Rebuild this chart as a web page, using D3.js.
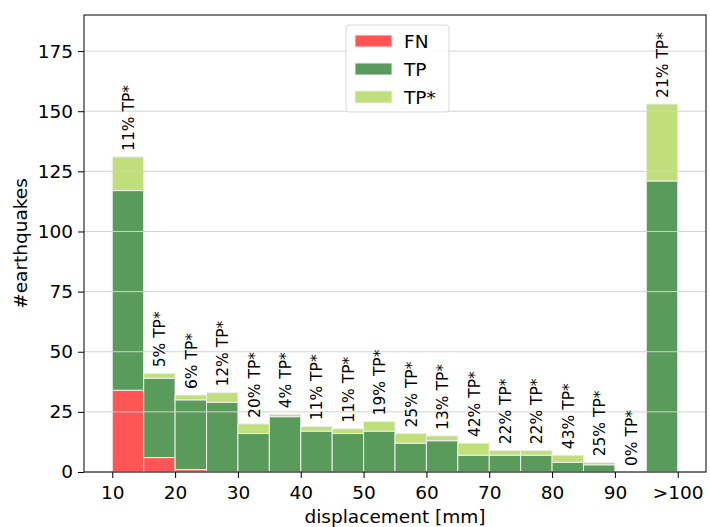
<!DOCTYPE html>
<html>
<head>
<meta charset="utf-8">
<script src="https://cdn.jsdelivr.net/npm/d3@7"></script>
<style>
  body { margin: 0; background: #fff; }
  text { font-family: "DejaVu Sans", sans-serif; fill: #000; }
</style>
</head>
<body>
<div id="chart"></div>
<script>
// bin start (mm), last bin is drawn as ">100"
const binStarts = [10, 15, 20, 25, 30, 35, 40, 45, 50, 55, 60, 65, 70, 75, 80, 85, 90, 95];
const fnCounts  = [34, 6, 1, 0, 0, 0, 0, 0, 0, 0, 0, 0, 0, 0, 0, 0, 0, 0];
const tpCounts  = [83, 33, 29, 29, 16, 23, 17, 16, 17, 12, 13, 7, 7, 7, 4, 3, 0, 121];
const tpStarCounts = [14, 2, 2, 4, 4, 1, 2, 2, 4, 4, 2, 5, 2, 2, 3, 1, 0, 32];
const xTicks = [10, 20, 30, 40, 50, 60, 70, 80, 90, 100];
const xTickLabels = ["10", "20", "30", "40", "50", "60", "70", "80", "90", ">100"];
const yTicks = [0, 25, 50, 75, 100, 125, 150, 175];
const seriesNames = ["FN", "TP", "TP*"];
const colors = ["#ff5555", "#5a9a5a", "#c0df7a"];

const width = 710, height = 527;
const margin = {top: 15, right: 4, bottom: 55, left: 84};
const fontSize = "18.5px";

const svg = d3.select("#chart").append("svg")
	.attr("width", width)
	.attr("height", height);

const x = d3.scaleLinear().domain([5.5, 104.5]).range([margin.left, width - margin.right]);
const y = d3.scaleLinear().domain([0, 190]).range([height - margin.bottom, margin.top]);

// build stacked rows
const rows = binStarts.map((b, i) => ({
	start: b, FN: fnCounts[i], TP: tpCounts[i], "TP*": tpStarCounts[i]
}));
const stacked = d3.stack().keys(seriesNames)(rows);

const g = svg.append("g");

stacked.forEach((layer, k) => {
	g.selectAll(null).data(layer).enter().append("rect")
		.attr("x", d => x(d.data.start))
		.attr("width", d => x(d.data.start + 5) - x(d.data.start))
		.attr("y", d => y(d[1]))
		.attr("height", d => y(d[0]) - y(d[1]))
		.attr("fill", colors[k])
		.attr("stroke", "#eeeeee")
		.attr("stroke-width", 1);
});

// grid lines drawn above bars
svg.append("g").selectAll("line").data(yTicks).enter().append("line")
	.attr("x1", margin.left).attr("x2", width - margin.right)
	.attr("y1", d => y(d)).attr("y2", d => y(d))
	.attr("stroke", "#d3d3d3").attr("stroke-width", 1);

// percent labels
rows.forEach(r => {
	const total = r.FN + r.TP + r["TP*"];
	const pct = total > 0 ? Math.round(100 * r["TP*"] / total) : 0;
	const cx = x(r.start + 2.5);
	const ty = y(total + 2.5);
	svg.append("text")
		.attr("transform", "translate(" + (cx + 6) + "," + ty + ") rotate(-90)")
		.attr("font-size", "15.5px")
		.text(pct + "% TP*");
});

// frame
svg.append("rect")
	.attr("x", margin.left).attr("y", margin.top)
	.attr("width", width - margin.right - margin.left)
	.attr("height", height - margin.bottom - margin.top)
	.attr("fill", "none").attr("stroke", "#000").attr("stroke-width", 1);

// axes
const xAxis = svg.append("g")
	.attr("transform", "translate(0," + (height - margin.bottom) + ")")
	.call(d3.axisBottom(x).tickValues(xTicks).tickFormat((d, i) => xTickLabels[i]).tickSize(6).tickPadding(8));
const yAxis = svg.append("g")
	.attr("transform", "translate(" + margin.left + ",0)")
	.call(d3.axisLeft(y).tickValues(yTicks).tickSize(6).tickPadding(5));
[xAxis, yAxis].forEach(a => {
	a.select(".domain").remove();
	a.selectAll("text").attr("font-size", fontSize).attr("font-family", "DejaVu Sans, sans-serif");
	a.selectAll("line").attr("stroke", "#000");
});

// axis titles
svg.append("text")
	.attr("x", (margin.left + width - margin.right) / 2)
	.attr("y", height - 4)
	.attr("text-anchor", "middle")
	.attr("font-size", fontSize)
	.text("displacement [mm]");
svg.append("text")
	.attr("transform", "translate(27," + (margin.top + (height - margin.bottom - margin.top) / 2) + ") rotate(-90)")
	.attr("text-anchor", "middle")
	.attr("font-size", fontSize)
	.text("#earthquakes");

// legend
const legend = svg.append("g").attr("transform", "translate(346,25)");
legend.append("rect")
	.attr("width", 103).attr("height", 87)
	.attr("rx", 3)
	.attr("fill", "#fff").attr("fill-opacity", 0.85)
	.attr("stroke", "#d9d9d9");
seriesNames.forEach((name, i) => {
	legend.append("rect")
		.attr("x", 9).attr("y", 10 + i * 28)
		.attr("width", 37).attr("height", 12)
		.attr("fill", colors[i]).attr("stroke", "#eeeeee");
	legend.append("text")
		.attr("x", 58).attr("y", 23 + i * 28)
		.attr("font-size", fontSize)
		.text(name);
});
</script>
</body>
</html>
